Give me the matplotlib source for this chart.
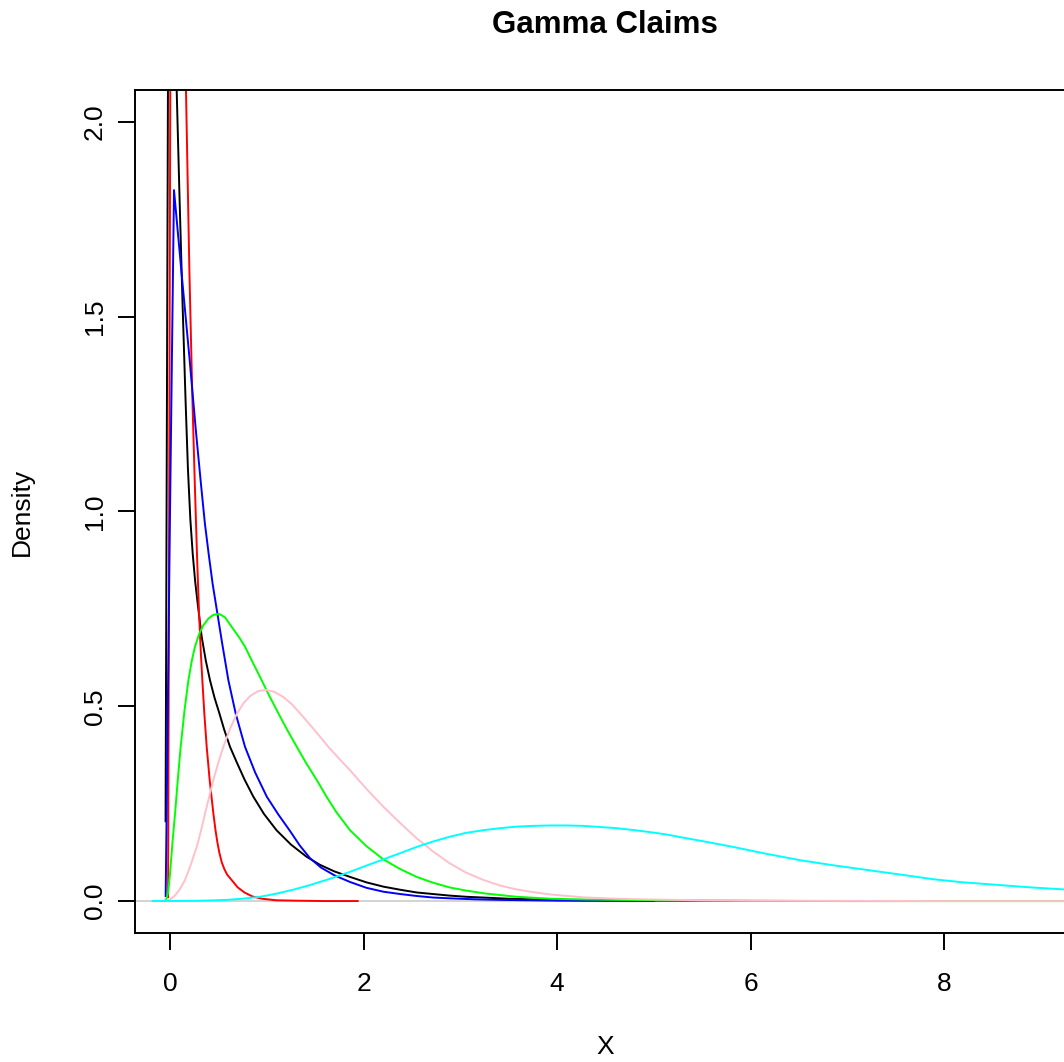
import matplotlib.pyplot as plt

# density curves of the simulated claim sizes
x_black = [-0.046, 0.01, 0.069, 0.10, 0.13, 0.16, 0.185, 0.21, 0.235, 0.26, 0.29, 0.327,
           0.37, 0.413, 0.46, 0.51, 0.56, 0.62, 0.69, 0.77, 0.861, 0.97, 1.10, 1.25, 1.41,
           1.55, 1.70, 1.86, 2.03, 2.205, 2.38, 2.55, 2.72, 2.89, 3.06, 3.24, 3.5, 3.93,
           4.4, 5.0, 6.0, 7.0, 9.6]
y_black = [0.205, 4.5, 2.08, 1.79, 1.53, 1.29, 1.11, 0.98, 0.89, 0.82, 0.755, 0.679,
           0.617, 0.567, 0.522, 0.482, 0.44, 0.396, 0.356, 0.312, 0.268, 0.224, 0.182, 0.145, 0.114,
           0.093, 0.076, 0.062, 0.048, 0.037, 0.029, 0.022, 0.018, 0.014, 0.011, 0.009, 0.006, 0.003,
           0.0018, 0.001, 0.0004, 0.0, 0.0]

x_red = [-0.02, 0.04, 0.165, 0.20, 0.23, 0.255, 0.28, 0.30, 0.32, 0.334, 0.355, 0.379,
         0.41, 0.448, 0.47, 0.49, 0.51, 0.534, 0.56, 0.59, 0.637, 0.70, 0.77, 0.85, 0.95,
         1.1, 1.3, 1.6, 1.94]
y_red = [0.01, 5.5, 2.08, 1.62, 1.30, 1.08, 0.88, 0.739, 0.63, 0.567, 0.48, 0.396,
         0.31, 0.225, 0.182, 0.150, 0.124, 0.100, 0.083, 0.068, 0.054, 0.035, 0.022, 0.012, 0.006,
         0.002, 0.001, 0.0, 0.0]

x_blue = [-0.045, 0.0, 0.041, 0.12, 0.2, 0.27, 0.32, 0.36, 0.40, 0.44, 0.489, 0.54, 0.603,
          0.68, 0.775, 0.88, 1.0, 1.12, 1.24, 1.34, 1.447, 1.56, 1.70, 1.86, 2.03, 2.205,
          2.38, 2.55, 2.72, 2.89, 3.15, 3.41, 4.0, 5.0]
y_blue = [0.013, 1.0, 1.825, 1.61, 1.397, 1.20, 1.07, 0.97, 0.89, 0.815, 0.739, 0.66, 0.567,
          0.48, 0.396, 0.33, 0.268, 0.222, 0.18, 0.143, 0.11, 0.086, 0.066, 0.049, 0.034, 0.024,
          0.018, 0.013, 0.009, 0.007, 0.0045, 0.003, 0.001, 0.0]

x_green = [-0.06, -0.04, -0.02, 0.0, 0.025, 0.052, 0.08, 0.11, 0.15, 0.19, 0.225, 0.258,
           0.30, 0.345, 0.40, 0.45, 0.51, 0.57, 0.62, 0.66, 0.72, 0.775, 0.86, 0.947, 1.03,
           1.12, 1.21, 1.31, 1.41, 1.516, 1.62, 1.72, 1.86, 2.03, 2.205, 2.38, 2.55, 2.72,
           2.89, 3.06, 3.24, 3.58, 3.93, 4.3, 4.62, 5.5, 7.0, 9.6]
y_green = [0.0, 0.004, 0.022, 0.07, 0.15, 0.225, 0.31, 0.396, 0.49, 0.567, 0.617, 0.653,
           0.685, 0.708, 0.726, 0.735, 0.737, 0.728, 0.71, 0.696, 0.675, 0.653, 0.61, 0.567, 0.525,
           0.482, 0.44, 0.396, 0.353, 0.311, 0.267, 0.228, 0.182, 0.141, 0.107, 0.082, 0.062, 0.047,
           0.035, 0.027, 0.020, 0.011, 0.006, 0.004, 0.003, 0.001, 0.0, 0.0]

x_pink = [-0.06, 0.0, 0.05, 0.10, 0.155, 0.21, 0.276, 0.32, 0.362, 0.405, 0.448, 0.50,
          0.551, 0.62, 0.689, 0.76, 0.827, 0.91, 0.992, 1.08, 1.17, 1.26, 1.344, 1.49,
          1.636, 1.75, 1.86, 2.03, 2.205, 2.38, 2.55, 2.72, 2.89, 3.06, 3.24, 3.41, 3.58,
          3.75, 3.93, 4.27, 4.62, 4.96, 5.5, 6.0, 7.0, 8.0, 9.6]
y_pink = [0.0, 0.004, 0.014, 0.03, 0.054, 0.09, 0.139, 0.18, 0.225, 0.268, 0.311, 0.356,
          0.396, 0.442, 0.48, 0.508, 0.526, 0.539, 0.542, 0.537, 0.524, 0.505, 0.482, 0.44,
          0.396, 0.365, 0.336, 0.288, 0.242, 0.20, 0.161, 0.127, 0.097, 0.073, 0.054, 0.04, 0.030,
          0.023, 0.017, 0.0095, 0.006, 0.004, 0.002, 0.001, 0.0005, 0.0, 0.0]

x_cyan = [-0.18, 0.1, 0.3, 0.45, 0.586, 0.75, 0.93, 1.1, 1.27, 1.447, 1.65, 1.86, 2.03,
          2.205, 2.38, 2.55, 2.72, 2.89, 3.06, 3.24, 3.41, 3.58, 3.75, 3.93, 4.1, 4.27, 4.45,
          4.62, 4.8, 4.96, 5.13, 5.3, 5.5, 5.82, 6.15, 6.51, 6.85, 7.20, 7.55, 7.89, 8.2,
          8.58, 8.9, 9.23, 9.6]
y_cyan = [0.0, 0.0003, 0.0008, 0.0018, 0.003, 0.006, 0.011, 0.019, 0.029, 0.041, 0.057, 0.075, 0.091,
          0.107, 0.123, 0.139, 0.153, 0.165, 0.175, 0.182, 0.187, 0.191, 0.193, 0.194, 0.194, 0.193, 0.190,
          0.187, 0.182, 0.177, 0.171, 0.163, 0.154, 0.139, 0.122, 0.105, 0.092, 0.080, 0.068, 0.056, 0.048,
          0.041, 0.035, 0.030, 0.025]

x_ticks = [0, 2, 4, 6, 8]
y_ticks = [0.0, 0.5, 1.0, 1.5, 2.0]

plt.rcParams['font.family'] = ['Liberation Sans', 'DejaVu Sans']

W, H = 1064, 1062
fig = plt.figure(figsize=(W / 100, H / 100), dpi=100)
# plot box runs a little past the right edge of the picture, as in the original
ax = fig.add_axes([135 / W, 1 - 933 / H, 940 / W, 843 / H])

ax.axhline(0, color='lightgray', lw=1.4)
curves = [(x_black, y_black, 'black'), (x_red, y_red, 'red'), (x_blue, y_blue, 'blue'),
          (x_green, y_green, '#00ff00'), (x_pink, y_pink, 'pink'), (x_cyan, y_cyan, 'cyan')]
for xs, ys, col in curves:
    ax.plot(xs, ys, color=col, lw=1.4)

ax.set_xlim(-0.362, 9.354)
ax.set_ylim(-0.082, 2.082)
ax.set_xticks(x_ticks)
ax.set_xticklabels([str(t) for t in x_ticks])
ax.set_yticks(y_ticks)
ax.set_yticklabels(['%.1f' % t for t in y_ticks])
for s in ax.spines.values():
    s.set_linewidth(1.4)
ax.tick_params(length=12.2, width=1.4, labelsize=19)
ax.tick_params(axis='x', pad=16)
ax.tick_params(axis='y', pad=8, labelrotation=90)
for lab in ax.get_yticklabels():
    lab.set_va('center')

fig.text(605 / W, 1 - 25 / H, 'Gamma Claims', ha='center', va='center',
         fontsize=22.5, fontweight='bold')
fig.text(605 / W, 1 - 1047 / H, 'X', ha='center', va='center', fontsize=19)
fig.text(22 / W, 1 - 511.5 / H, 'Density', ha='center', va='center', fontsize=19, rotation=90)

fig.savefig('out.png', dpi=100)
